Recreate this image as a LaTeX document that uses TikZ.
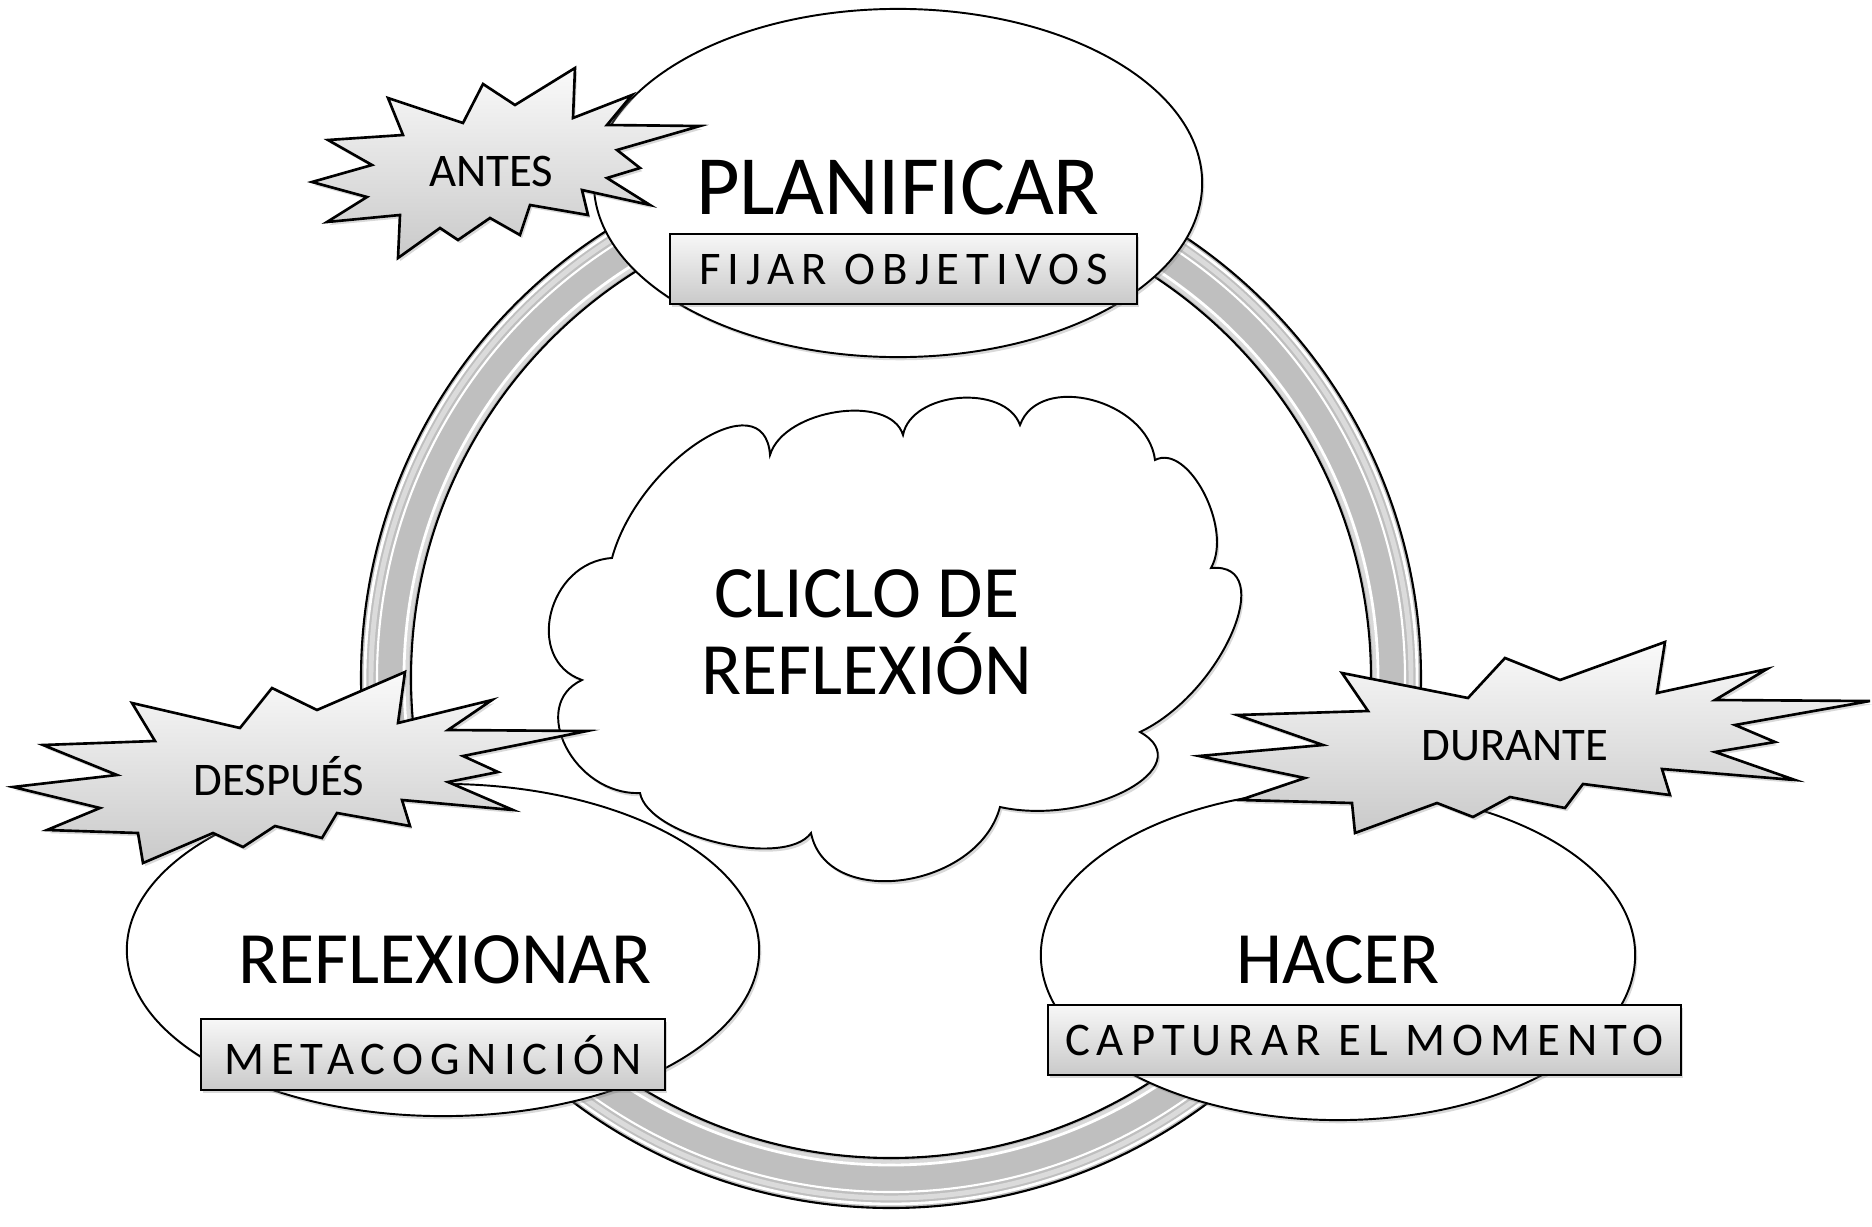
\documentclass[tikz,border=0pt]{standalone}
\usepackage{fontspec}
\setmainfont{Carlito}
\newfontfamily\tagfont[LetterSpace=15]{Carlito}
\usetikzlibrary{shapes.geometric,calc,shadows}
\newcommand\bump[3]{.. controls ($0.2333*(#1)+1.3333*(#2)-0.5667*(#3)$) and ($1.3333*(#2)+0.2333*(#3)-0.5667*(#1)$) .. (#3)}
\begin{document}
\begin{tikzpicture}[x=0.01cm,y=-0.01cm,
  softshadow/.style={drop shadow={shadow xshift=0.6pt,shadow yshift=-0.9pt,opacity=0.3}},
  bubble/.style={ellipse,draw=black,line width=0.55pt,fill=white,inner sep=0pt,softshadow},
  tagbox/.style={rectangle,draw=black,line width=0.55pt,top color=gray!6,bottom color=gray!42,inner sep=0pt,softshadow},
  burst/.style={draw=black,line width=0.75pt,line join=miter,top color=gray!4,bottom color=gray!42,softshadow},
  bigtext/.style={inner sep=0pt,text depth=0pt,font=\fontsize{21}{22}\selectfont},
  smalltext/.style={inner sep=0pt,text depth=0pt,font=\fontsize{13.3}{14}\selectfont},
  tagtext/.style={inner sep=0pt,text depth=0pt,font=\tagfont\fontsize{13.3}{14}\selectfont}]
\useasboundingbox (0,0) rectangle (1872,1227);
% ring
\coordinate (rc) at (891,678);
\fill[gray!50,even odd rule] (rc) circle[radius=530] (rc) circle[radius=480];
\draw[gray!28,line width=1.4pt] (rc) circle[radius=520];
\draw[white,line width=0.8pt] (rc) circle[radius=526];
\draw[white,line width=0.6pt] (rc) circle[radius=514];
\draw[gray!30,line width=1.0pt] (rc) circle[radius=484];
\draw[white,line width=0.8pt] (rc) circle[radius=487];
\draw[black,line width=0.6pt] (rc) circle[radius=530];
\draw[black,line width=0.6pt] (rc) circle[radius=480];
% ellipses
\node[bubble,minimum width=6.08cm,minimum height=3.48cm] (planE) at (898,183) {};
\node[bubble,minimum width=6.32cm,minimum height=3.32cm] (reflE) at (443,950) {};
\node[bubble,minimum width=5.94cm,minimum height=3.30cm] (hacE) at (1338,955) {};
% cloud
\coordinate (c1) at (612,558);  \coordinate (c2) at (770,455);
\coordinate (c3) at (903,435);  \coordinate (c4) at (1020,425);
\coordinate (c5) at (1155,460); \coordinate (c6) at (1211,568);
\coordinate (c7) at (1140,732); \coordinate (c8) at (1000,807);
\coordinate (c9) at (811,833);  \coordinate (c10) at (640,793);
\coordinate (c11) at (582,680);
\coordinate (p1) at (699,442);  \coordinate (p2) at (837,412);
\coordinate (p3) at (959,398);  \coordinate (p4) at (1092,400);
\coordinate (p5) at (1204,493); \coordinate (p6) at (1232,633);
\coordinate (p7) at (1127,790); \coordinate (p8) at (903,880);
\coordinate (p9) at (719,843);  \coordinate (p10) at (566,747);
\coordinate (p11) at (551,613);
\filldraw[fill=white,draw=black,line width=0.55pt,softshadow] (c1)
  \bump{c1}{p1}{c2} \bump{c2}{p2}{c3} \bump{c3}{p3}{c4} \bump{c4}{p4}{c5}
  \bump{c5}{p5}{c6} \bump{c6}{p6}{c7} \bump{c7}{p7}{c8} \bump{c8}{p8}{c9}
  \bump{c9}{p9}{c10} \bump{c10}{p10}{c11} \bump{c11}{p11}{c1} -- cycle;
\node[bigtext,align=center,font=\fontsize{21}{21.9}\selectfont] (ciclo) at (867,632) {CLICLO DE\\REFLEXIÓN};
% tag boxes
\node[tagbox,minimum width=4.67cm,minimum height=0.70cm] (fijar) at (903.5,269) {};
\node[tagbox,minimum width=4.64cm,minimum height=0.71cm] (meta) at (433,1054.5) {};
\node[tagbox,minimum width=6.33cm,minimum height=0.70cm] (capt) at (1364.5,1040) {};
\node[tagtext] (fijarT) at (fijar) {FIJAR OBJETIVOS};
\node[tagtext] (metaT) at (meta) {METACOGNICIÓN};
\node[tagtext] (captT) at (capt) {CAPTURAR EL MOMENTO};
% main labels
\node[bigtext,font=\fontsize{24}{26}\selectfont] (planT) at (898,187) {PLANIFICAR};
\node[bigtext] (reflT) at (445,960) {REFLEXIONAR};
\node[bigtext] (hacT) at (1338,960) {HACER};
% bursts
\filldraw[burst] (312,182) -- (372,165) -- (328,140) -- (403,135) -- (388,98) -- (463,123) -- (483,84) -- (515,105) -- (575,68) -- (573,118) -- (632,95) -- (607,125) -- (700,126) -- (617,150) -- (640,168) -- (607,178) -- (650,205) -- (582,190) -- (588,215) -- (530,205) -- (520,235) -- (490,218) -- (458,240) -- (440,228) -- (398,258) -- (400,215) -- (327,222) -- (367,197) -- cycle;
\filldraw[burst] (132,703) -- (240,728) -- (272,688) -- (317,710) -- (405,672) -- (398,723) -- (492,700) -- (448,730) -- (587,731) -- (463,756) -- (498,772) -- (448,782) -- (513,810) -- (402,800) -- (410,826) -- (337,813) -- (322,838) -- (275,826) -- (243,847) -- (213,833) -- (143,863) -- (138,833) -- (47,830) -- (100,808) -- (13,787) -- (117,775) -- (43,745) -- (155,741) -- cycle;
\filldraw[burst] (1342,673) -- (1468,698) -- (1505,658) -- (1560,680) -- (1665,642) -- (1657,693) -- (1767,669) -- (1715,700) -- (1870,701) -- (1735,725) -- (1775,742) -- (1715,752) -- (1795,780) -- (1662,769) -- (1670,795) -- (1583,784) -- (1565,808) -- (1510,797) -- (1473,817) -- (1437,803) -- (1355,833) -- (1352,803) -- (1240,800) -- (1305,778) -- (1199,756) -- (1323,745) -- (1237,715) -- (1368,711) -- cycle;
\node[smalltext] (antesT) at (491,171) {ANTES};
\node[smalltext] (despT) at (279,776) {DESPUÉS};
\node[smalltext] (durT) at (1515,745) {DURANTE};
\end{tikzpicture}
\end{document}
